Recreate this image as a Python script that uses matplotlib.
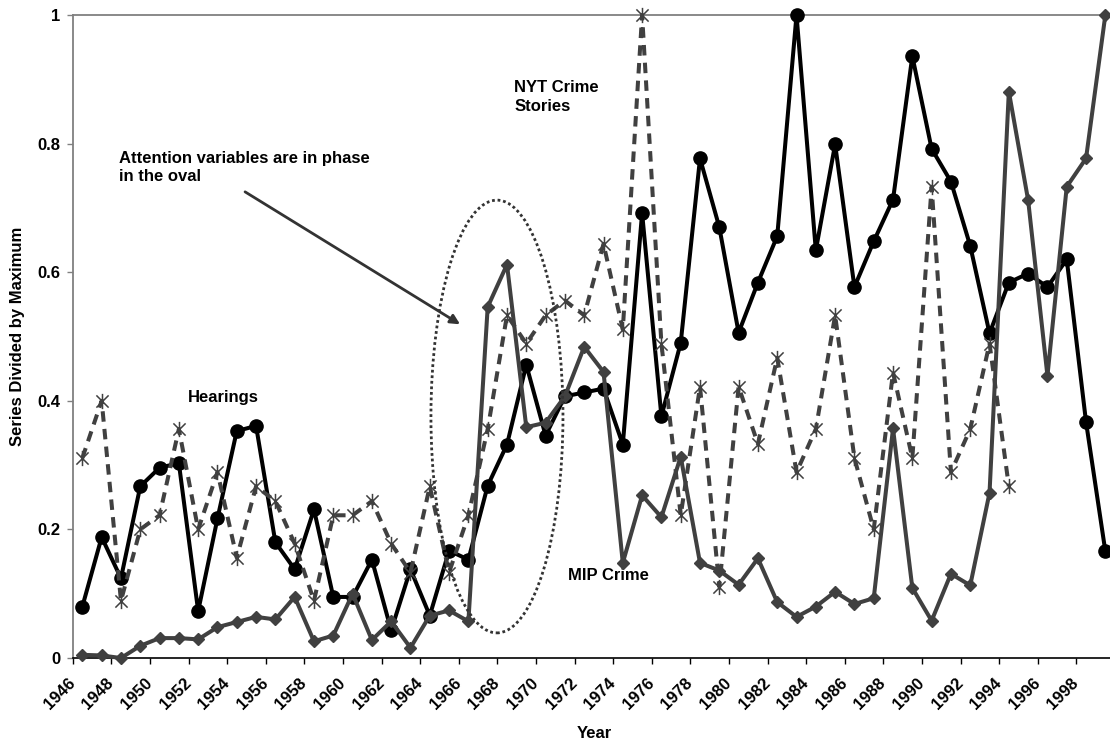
import numpy as np
import matplotlib.pyplot as plt
from matplotlib.path import Path
from matplotlib.patches import Ellipse

# series, each divided by its own maximum
years = list(range(1946, 2000))

hearings = [0.080, 0.188, 0.124, 0.267, 0.296, 0.303, 0.073, 0.217, 0.353, 0.361,
            0.180, 0.138, 0.231, 0.095, 0.095, 0.153, 0.043, 0.138, 0.066, 0.167,
            0.153, 0.268, 0.332, 0.456, 0.346, 0.407, 0.413, 0.419, 0.332, 0.692,
            0.376, 0.490, 0.777, 0.670, 0.506, 0.584, 0.656, 1.000, 0.634, 0.799,
            0.577, 0.648, 0.713, 0.936, 0.792, 0.741, 0.641, 0.505, 0.584, 0.598,
            0.577, 0.620, 0.367, 0.166]

# NYT series stops in 1994
nyt_stories = [0.311, 0.400, 0.089, 0.200, 0.222, 0.356, 0.200, 0.289, 0.156, 0.267,
               0.244, 0.178, 0.089, 0.222, 0.222, 0.244, 0.178, 0.133, 0.267, 0.133,
               0.222, 0.356, 0.533, 0.489, 0.533, 0.556, 0.533, 0.644, 0.511, 1.000,
               0.489, 0.222, 0.422, 0.111, 0.422, 0.333, 0.467, 0.289, 0.356, 0.533,
               0.311, 0.200, 0.444, 0.311, 0.733, 0.289, 0.356, 0.489, 0.267]

mip_crime = [0.005, 0.004, 0.000, 0.019, 0.031, 0.031, 0.029, 0.048, 0.056, 0.064,
             0.060, 0.095, 0.026, 0.035, 0.100, 0.028, 0.057, 0.016, 0.066, 0.074,
             0.057, 0.546, 0.612, 0.359, 0.366, 0.407, 0.484, 0.445, 0.148, 0.253,
             0.219, 0.313, 0.148, 0.136, 0.114, 0.155, 0.087, 0.064, 0.080, 0.103,
             0.084, 0.093, 0.357, 0.109, 0.058, 0.131, 0.113, 0.257, 0.881, 0.712,
             0.439, 0.733, 0.777, 1.000]

y_ticks = [0, 0.2, 0.4, 0.6, 0.8, 1]
y_ticklabels = ["0", "0.2", "0.4", "0.6", "0.8", "1"]

plt.rcParams["font.family"] = ["Liberation Sans", "DejaVu Sans"]
plt.rcParams["font.weight"] = "bold"
plt.rcParams["font.size"] = 12

GRAY = "#404040"

# asterisk marker: an X with a vertical bar
star = Path([(-1, -1), (1, 1), (-1, 1), (1, -1), (0, -1.25), (0, 1.25)],
            [Path.MOVETO, Path.LINETO, Path.MOVETO, Path.LINETO, Path.MOVETO, Path.LINETO])

fig = plt.figure(figsize=(11.1, 7.47), dpi=100)
ax = fig.add_axes([0.0655, 0.1191, 0.939, 0.8608])

ax.plot(years, hearings, color="black", lw=2.9, marker="o", ms=9.5,
        zorder=3, clip_on=False)
ax.plot(years[:len(nyt_stories)], nyt_stories, color=GRAY, lw=2.9,
        ls=(0, (2.6, 1.8)), dash_capstyle="butt", marker=star, ms=11,
        mec=GRAY, mfc="none", mew=1.1, zorder=4, clip_on=False)
ax.plot(years, mip_crime, color=GRAY, lw=2.9, marker="D", ms=6.5,
        mec=GRAY, mfc=GRAY, zorder=5, clip_on=False)

ax.set_xlim(years[0] - 0.5, years[-1] + 0.5)
ax.set_ylim(0, 1)

# category axis: ticks between years, labels every second year
ax.set_xticks([y - 0.5 for y in years[::2]])
ax.set_xticklabels([str(y) for y in years[::2]])
for lbl in ax.get_xticklabels():
    lbl.set_rotation(45)
    lbl.set_ha("right")
    lbl.set_va("center")
    lbl.set_rotation_mode("anchor")
ax.tick_params(axis="x", length=4.3, width=1, color="black", pad=12)

ax.set_yticks(y_ticks)
ax.set_yticklabels(y_ticklabels)
ax.tick_params(axis="y", length=4.3, width=1, color="#808080", pad=4.5)

for side in ["left", "top"]:
    ax.spines[side].set_color("#808080")
    ax.spines[side].set_linewidth(1.3)
ax.spines["bottom"].set_color("black")
ax.spines["bottom"].set_linewidth(1.2)
ax.spines["right"].set_visible(False)

fig.text(18 / 1110, 1 - 336 / 747, "Series Divided by Maximum", rotation=90,
         ha="center", va="center")
fig.text(594 / 1110, 1 - 734 / 747, "Year", ha="center", va="center")

# annotations
oval = Ellipse((1967.48, 0.3756), width=6.84, height=0.673, fill=False,
               ls=(0, (1, 1)), lw=2, ec="#333333", zorder=6)
ax.add_patch(oval)
ax.annotate("", xy=(1965.57, 0.519), xytext=(1954.43, 0.725),
            arrowprops=dict(arrowstyle="-|>", color="#333333", lw=2,
                            mutation_scale=14, shrinkA=0, shrinkB=0))
ax.text(1947.9, 0.789, "Attention variables are in phase\nin the oval",
        ha="left", va="top", linespacing=1.3)
ax.text(1968.37, 0.899, "NYT Crime\nStories", ha="left", va="top", linespacing=1.3)
ax.text(1951.48, 0.417, "Hearings", ha="left", va="top")
ax.text(1971.16, 0.140, "MIP Crime", ha="left", va="top")

fig.savefig("out.png", dpi=100)
